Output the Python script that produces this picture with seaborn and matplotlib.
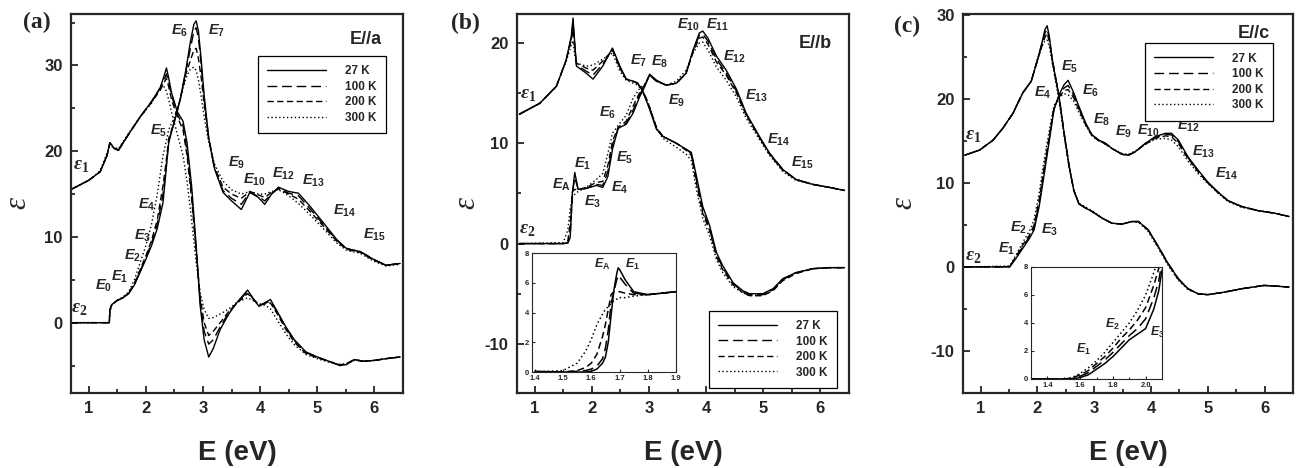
import matplotlib
matplotlib.use('Agg')
import matplotlib.pyplot as plt
from matplotlib.lines import Line2D
from matplotlib.ticker import MultipleLocator
import seaborn as sns
import pandas as pd

temps = ['27 K', '100 K', '200 K', '300 K']

# ---- panel (a), E//a ----
a_E1 = [0.71, 1.0, 1.2, 1.32, 1.37, 1.45, 1.52, 1.7, 1.9, 2.1, 2.25, 2.31, 2.36, 2.40, 2.45, 2.55, 2.65,
        2.72, 2.8, 2.88, 2.95, 3.02, 3.1, 3.18, 3.3, 3.45, 3.6, 3.78, 3.9, 3.98, 4.1, 4.18,
        4.3, 4.45, 4.6, 4.8, 5.0, 5.2, 5.4, 5.5, 5.65, 5.8, 6.0, 6.2, 6.45]
a_eps1_27 = [15.6, 16.6, 17.6, 19.5, 21.0, 20.3, 20.1, 22.0, 24.0, 25.8, 27.4, 28.6, 29.7, 28.5, 26.8, 24.6, 23.5,
             21.0, 16.0, 9.0, 2.0, -2.0, -4.0, -3.0, -0.8, 1.0, 2.4, 3.8, 2.6, 1.9, 2.4, 2.7,
             1.3, -0.5, -2.0, -3.4, -4.0, -4.5, -5.0, -4.9, -4.3, -4.5, -4.4, -4.2, -4.0]
a_eps1_100 = [15.6, 16.6, 17.6, 19.5, 21.0, 20.3, 20.1, 22.0, 24.0, 25.8, 27.3, 28.2, 29.0, 28.0, 26.5, 24.3, 23.0,
              20.0, 15.0, 8.5, 2.5, -1.0, -2.5, -2.0, -0.5, 1.2, 2.4, 3.6, 2.6, 2.0, 2.3, 2.5,
              1.2, -0.6, -2.1, -3.5, -4.0, -4.5, -5.0, -4.9, -4.3, -4.5, -4.4, -4.2, -4.0]
a_eps1_200 = [15.6, 16.6, 17.6, 19.5, 20.9, 20.3, 20.2, 22.0, 24.0, 25.7, 27.1, 27.9, 28.5, 27.5, 26.0, 24.0, 22.5,
              19.5, 14.5, 8.5, 3.0, 0.0, -1.5, -1.0, 0.0, 1.3, 2.3, 3.4, 2.6, 2.1, 2.2, 2.3,
              1.0, -0.8, -2.3, -3.6, -4.1, -4.5, -4.9, -4.8, -4.3, -4.5, -4.4, -4.2, -4.0]
a_eps1_300 = [15.6, 16.6, 17.7, 19.8, 20.6, 20.4, 20.3, 22.1, 24.0, 25.6, 27.5, 27.6, 27.0, 26.0, 24.5, 22.0, 19.5,
              16.5, 12.0, 7.0, 3.5, 1.5, 0.5, 0.6, 1.0, 1.6, 2.4, 2.9, 2.5, 2.2, 2.0, 1.6,
              0.3, -1.3, -2.6, -3.7, -4.2, -4.6, -4.9, -4.8, -4.4, -4.5, -4.4, -4.2, -4.0]

a_E2 = [0.71, 1.36, 1.37, 1.4, 1.5, 1.6, 1.7, 1.8, 1.9, 2.0, 2.1, 2.2, 2.3, 2.35, 2.4,
        2.5, 2.6, 2.7, 2.78, 2.84, 2.88, 2.92, 2.97, 3.02, 3.1, 3.2, 3.35, 3.5, 3.67, 3.82, 3.97, 4.08,
        4.2, 4.32, 4.5, 4.67, 4.87, 5.1, 5.34, 5.5, 5.6, 5.75, 5.98, 6.2, 6.45]
a_eps2_27 = [0, 0, 1.5, 2.1, 2.6, 2.9, 3.4, 4.4, 5.9, 7.4, 9.0, 11.0, 14.0, 17.5, 21.0,
             23.5, 26.0, 29.5, 32.8, 34.8, 35.2, 34.0, 30.5, 26.5, 21.5, 18.0, 15.2, 14.2, 13.2, 15.2, 14.6, 13.8,
             15.0, 15.8, 15.3, 15.1, 13.6, 11.7, 9.7, 8.7, 8.5, 8.3, 7.4, 6.7, 6.9]
a_eps2_100 = [0, 0, 1.5, 2.1, 2.6, 2.9, 3.4, 4.5, 6.0, 7.6, 9.3, 11.5, 15.0, 18.0, 21.2,
              23.5, 26.0, 29.3, 32.0, 34.0, 34.4, 33.2, 30.0, 26.0, 21.5, 18.0, 15.4, 14.5, 13.8, 15.2, 14.7, 14.2,
              15.0, 15.7, 15.1, 14.8, 13.3, 11.5, 9.6, 8.7, 8.5, 8.3, 7.4, 6.7, 6.9]
a_eps2_200 = [0, 0, 1.4, 2.1, 2.6, 2.9, 3.5, 4.6, 6.2, 7.8, 9.6, 12.0, 16.0, 18.5, 21.5,
              23.5, 26.0, 29.0, 30.6, 31.8, 32.0, 30.8, 28.5, 25.5, 21.5, 18.2, 15.8, 15.0, 14.5, 15.3, 14.9, 14.6,
              15.2, 15.6, 15.0, 14.4, 13.0, 11.3, 9.5, 8.6, 8.4, 8.2, 7.3, 6.7, 6.9]
a_eps2_300 = [0, 0, 1.2, 2.0, 2.6, 3.0, 3.6, 5.0, 7.0, 9.0, 11.5, 15.0, 19.5, 21.0, 22.5,
              24.0, 26.0, 28.5, 29.6, 29.8, 29.4, 28.3, 26.3, 24.0, 21.0, 18.5, 16.5, 15.5, 15.0, 15.3, 15.0, 15.0,
              15.3, 15.5, 14.8, 13.9, 12.6, 11.0, 9.3, 8.5, 8.3, 8.1, 7.2, 6.6, 6.8]

# ---- panel (b), E//b ----
b_E1 = [0.73, 1.09, 1.38, 1.55, 1.64, 1.67, 1.7, 1.73, 1.9, 2.02, 2.19, 2.36, 2.49, 2.6, 2.72,
        2.8, 2.88, 2.95, 3.01, 3.13, 3.24, 3.48, 3.65, 3.74, 3.83, 3.94, 4.06, 4.18, 4.29, 4.47,
        4.64, 4.76, 4.99, 5.17, 5.34, 5.57, 5.87, 6.16, 6.42]
b_eps1_27 = [12.9, 14.0, 15.7, 18.3, 20.7, 22.5, 20.0, 17.7, 17.0, 16.4, 17.7, 19.5, 17.7, 16.4, 16.2,
             16.0, 15.3, 14.3, 13.4, 11.4, 10.7, 10.0, 9.4, 9.1, 6.7, 3.7, 1.8, -0.9, -2.2, -3.9,
             -4.7, -5.0, -5.0, -4.5, -3.5, -2.9, -2.5, -2.4, -2.4]
b_eps1_100 = [12.9, 14.0, 15.7, 18.3, 20.5, 22.0, 19.8, 17.8, 17.2, 16.8, 17.9, 19.4, 17.6, 16.4, 16.2,
              16.0, 15.3, 14.4, 13.5, 11.5, 10.7, 10.0, 9.4, 9.0, 6.4, 3.3, 1.5, -1.1, -2.4, -4.0,
              -4.8, -5.1, -5.1, -4.6, -3.6, -2.9, -2.5, -2.4, -2.4]
b_eps1_200 = [12.9, 14.0, 15.7, 18.3, 20.3, 21.3, 19.5, 18.0, 17.5, 17.3, 18.2, 19.3, 17.5, 16.4, 16.2,
              16.0, 15.4, 14.5, 13.6, 11.6, 10.7, 10.0, 9.3, 8.8, 6.0, 3.0, 1.3, -1.3, -2.6, -4.1,
              -4.9, -5.2, -5.2, -4.7, -3.7, -3.0, -2.5, -2.4, -2.4]
b_eps1_300 = [12.9, 14.0, 15.7, 18.2, 19.8, 20.2, 18.8, 18.0, 17.7, 17.8, 18.4, 19.0, 17.2, 16.3, 16.0,
              15.8, 15.3, 14.5, 13.6, 11.6, 10.5, 9.6, 8.9, 8.3, 5.4, 2.5, 0.8, -1.6, -2.9, -4.3,
              -4.9, -5.2, -5.1, -4.6, -3.6, -2.9, -2.5, -2.4, -2.4]

b_E2 = [0.73, 1.5, 1.58, 1.62, 1.66, 1.70, 1.76, 1.9, 2.08, 2.19, 2.28, 2.36, 2.46, 2.6, 2.72,
        2.84, 2.92, 3.01, 3.13, 3.3, 3.48, 3.65, 3.77, 3.88, 3.94, 4.03, 4.18, 4.35, 4.53, 4.7,
        4.93, 5.11, 5.34, 5.57, 5.87, 6.16, 6.42]
b_eps2_27 = [0, 0, 0.05, 0.6, 5.1, 7.1, 5.4, 5.5, 5.8, 5.6, 6.7, 9.4, 11.5, 11.9, 13.0,
             14.7, 15.6, 16.9, 16.3, 15.8, 16.0, 17.0, 19.3, 21.0, 21.2, 20.5, 18.7, 17.3, 15.4, 13.0,
             10.7, 9.0, 7.4, 6.4, 5.9, 5.6, 5.3]
b_eps2_100 = [0, 0, 0.1, 0.9, 5.0, 6.6, 5.4, 5.5, 5.9, 5.8, 7.2, 9.8, 11.5, 12.0, 13.3,
              14.9, 15.7, 16.8, 16.2, 15.8, 16.0, 17.0, 19.2, 20.8, 20.9, 20.2, 18.4, 17.0, 15.2, 12.9,
              10.6, 9.0, 7.4, 6.4, 5.9, 5.6, 5.3]
b_eps2_200 = [0, 0, 0.3, 2.0, 5.2, 5.4, 5.4, 5.6, 6.1, 6.2, 7.8, 10.2, 11.6, 12.2, 13.7,
              15.1, 15.8, 16.8, 16.2, 15.8, 16.0, 17.0, 19.1, 20.5, 20.6, 19.9, 18.1, 16.8, 15.0, 12.8,
              10.6, 8.9, 7.3, 6.4, 5.9, 5.6, 5.3]
b_eps2_300 = [0, 0.1, 1.4, 3.5, 4.6, 4.9, 5.2, 5.6, 6.4, 7.0, 9.0, 11.0, 11.8, 12.8, 14.5,
              15.5, 15.9, 16.8, 16.2, 15.8, 16.2, 17.3, 19.0, 20.0, 20.1, 19.3, 17.6, 16.3, 14.6, 12.5,
              10.4, 8.8, 7.2, 6.3, 5.9, 5.6, 5.3]

# inset (b): band edge
bi_E = [1.40, 1.50, 1.55, 1.58, 1.60, 1.62, 1.64, 1.65, 1.66, 1.67, 1.68, 1.69, 1.695, 1.70,
        1.72, 1.75, 1.80, 1.85, 1.90]
bi_27 = [0.05, 0, 0, 0, 0.05, 0.2, 0.6, 1.0, 2.0, 3.8, 5.5, 6.6, 7.0, 6.9, 6.2, 5.4, 5.2, 5.3, 5.4]
bi_100 = [0, 0, 0.05, 0.1, 0.2, 0.4, 0.9, 1.6, 2.8, 4.6, 5.4, 6.2, 6.5, 6.4, 5.9, 5.3, 5.2, 5.3, 5.4]
bi_200 = [0, 0, 0.1, 0.3, 0.6, 1.2, 2.4, 3.2, 4.2, 5.2, 5.4, 5.4, 5.4, 5.4, 5.3, 5.2, 5.2, 5.3, 5.4]
bi_300 = [0, 0.1, 0.6, 1.4, 2.2, 3.2, 3.9, 4.2, 4.4, 4.6, 4.8, 4.9, 4.9, 5.0, 5.0, 5.1, 5.2, 5.3, 5.4]

# ---- panel (c), E//c ----
c_E1 = [0.72, 0.98, 1.22, 1.39, 1.57, 1.74, 1.89, 2.0, 2.09, 2.13, 2.17, 2.21, 2.26, 2.38, 2.47, 2.56, 2.64,
        2.73, 2.85, 2.96, 3.14, 3.31, 3.49, 3.66, 3.78, 3.95, 4.13, 4.3, 4.48, 4.65, 4.83, 5.0,
        5.29, 5.59, 5.99, 6.23, 6.43]
c_eps1_27 = [13.3, 13.9, 15.1, 16.5, 18.3, 20.7, 22.1, 24.6, 27.0, 28.2, 28.7, 27.4, 24.6, 20.3, 15.9, 11.9, 9.1,
             7.5, 7.0, 6.6, 5.8, 5.2, 5.1, 5.4, 5.4, 4.4, 2.4, 0.4, -1.4, -2.6, -3.2, -3.3,
             -3.0, -2.6, -2.2, -2.3, -2.4]
c_eps1_100 = [13.3, 13.9, 15.1, 16.5, 18.3, 20.7, 22.1, 24.6, 26.8, 27.8, 28.3, 27.1, 24.7, 20.3, 15.9, 11.9, 9.1,
              7.5, 7.0, 6.6, 5.8, 5.2, 5.1, 5.4, 5.4, 4.4, 2.4, 0.4, -1.4, -2.6, -3.2, -3.3,
              -3.0, -2.6, -2.2, -2.3, -2.4]
c_eps1_200 = [13.3, 13.9, 15.1, 16.5, 18.3, 20.7, 22.1, 24.6, 26.5, 27.3, 27.8, 26.8, 24.8, 20.2, 15.8, 11.9, 9.1,
              7.5, 7.0, 6.6, 5.8, 5.2, 5.1, 5.4, 5.4, 4.4, 2.3, 0.3, -1.5, -2.6, -3.2, -3.3,
              -3.0, -2.6, -2.2, -2.3, -2.4]
c_eps1_300 = [13.3, 13.9, 15.1, 16.5, 18.3, 20.7, 22.1, 24.8, 26.4, 26.9, 27.0, 26.2, 24.3, 19.8, 15.5, 11.7, 9.1,
              7.6, 7.1, 6.7, 5.8, 5.2, 5.1, 5.4, 5.3, 4.2, 2.2, 0.2, -1.6, -2.7, -3.2, -3.3,
              -3.0, -2.6, -2.2, -2.3, -2.4]

c_E2 = [0.72, 1.51, 1.62, 1.74, 1.86, 1.94, 2.03, 2.12, 2.21, 2.29, 2.38, 2.47, 2.54, 2.64, 2.73,
        2.85, 2.96, 3.08, 3.2, 3.31, 3.49, 3.6, 3.72, 3.9, 4.07, 4.25, 4.36, 4.48, 4.65, 4.83,
        5.0, 5.18, 5.35, 5.59, 5.88, 6.17, 6.43]
c_eps2_27 = [0, 0, 1.0, 2.2, 3.4, 4.4, 7.2, 11.1, 15.1, 18.7, 20.5, 21.7, 22.2, 20.7, 19.1,
             17.1, 15.7, 15.1, 14.7, 14.1, 13.4, 13.3, 13.7, 14.7, 15.5, 15.9, 15.9, 15.1, 13.1, 11.5,
             10.1, 8.9, 7.9, 7.2, 6.7, 6.4, 6.0]
c_eps2_100 = [0, 0, 1.1, 2.4, 3.6, 4.7, 7.6, 11.5, 15.4, 18.8, 20.3, 21.3, 21.6, 20.4, 18.9,
              17.0, 15.7, 15.1, 14.7, 14.1, 13.4, 13.3, 13.7, 14.7, 15.4, 15.8, 15.7, 14.9, 13.0, 11.4,
              10.0, 8.9, 7.9, 7.2, 6.7, 6.4, 6.0]
c_eps2_200 = [0, 0.05, 1.2, 2.6, 3.8, 5.0, 8.0, 12.0, 15.7, 18.9, 20.2, 21.0, 21.1, 20.1, 18.7,
              16.9, 15.6, 15.0, 14.6, 14.1, 13.4, 13.3, 13.7, 14.6, 15.3, 15.6, 15.5, 14.7, 12.9, 11.3,
              10.0, 8.8, 7.9, 7.2, 6.7, 6.4, 6.0]
c_eps2_300 = [0, 0.1, 1.4, 2.9, 4.3, 5.6, 8.8, 12.8, 16.3, 19.2, 20.2, 20.6, 20.5, 19.7, 18.4,
              16.8, 15.6, 15.0, 14.6, 14.1, 13.5, 13.4, 13.8, 14.6, 15.2, 15.3, 15.1, 14.3, 12.6, 11.1,
              9.9, 8.8, 7.8, 7.1, 6.7, 6.4, 6.0]

# inset (c): absorption onset
ci_E = [1.30, 1.50, 1.55, 1.60, 1.65, 1.70, 1.75, 1.80, 1.85, 1.90, 1.95, 2.00, 2.05, 2.08, 2.10]
ci_27 = [0, 0, 0, 0.1, 0.3, 0.7, 1.1, 1.6, 2.2, 2.8, 3.2, 3.6, 5.0, 6.3, 7.8]
ci_100 = [0, 0, 0.03, 0.2, 0.45, 0.9, 1.35, 1.9, 2.5, 3.1, 3.6, 4.3, 5.8, 7.0, 8.4]
ci_200 = [0, 0, 0.06, 0.3, 0.6, 1.1, 1.6, 2.2, 2.9, 3.5, 4.2, 5.1, 6.7, 7.9, 8.8]
ci_300 = [0, 0, 0.1, 0.4, 0.8, 1.3, 1.9, 2.6, 3.3, 4.0, 4.9, 6.0, 7.6, 8.8, 9.5]

dash_styles = {'27 K': '', '100 K': (7, 3.5), '200 K': (4.5, 2.5), '300 K': (1, 1.8)}

sns.set_style('ticks')
plt.rcParams['font.family'] = ['Liberation Sans', 'DejaVu Sans']
plt.rcParams['font.weight'] = 'bold'
plt.rcParams['axes.unicode_minus'] = False
plt.rcParams['mathtext.fontset'] = 'custom'
plt.rcParams['mathtext.it'] = 'Liberation Sans:italic:bold'
plt.rcParams['mathtext.rm'] = 'Liberation Sans:bold'
plt.rcParams['mathtext.bf'] = 'Liberation Sans:bold'
plt.rcParams['mathtext.cal'] = 'Liberation Serif:italic'
plt.rcParams['mathtext.sf'] = 'Liberation Serif'


def draw_curves(ax, E, cols, lw=1.0):
    frames = [pd.DataFrame({'E': E, 'eps': vals, 'T': t}) for t, vals in zip(temps, cols)]
    df = pd.concat(frames, ignore_index=True)
    sns.lineplot(data=df, x='E', y='eps', style='T', style_order=temps, dashes=dash_styles,
                 color='black', linewidth=lw, estimator=None, sort=False, legend=False, ax=ax)


def setup_axes(ax, ylim, ylab_x):
    ax.set_xlim(0.69, 6.5)
    ax.set_ylim(*ylim)
    ax.xaxis.set_major_locator(MultipleLocator(1))
    ax.xaxis.set_minor_locator(MultipleLocator(0.5))
    ax.yaxis.set_major_locator(MultipleLocator(10))
    ax.yaxis.set_minor_locator(MultipleLocator(5))
    ax.tick_params(which='both', direction='in', top=False, right=False, width=1.3)
    ax.tick_params(which='major', length=5, labelsize=12, pad=6)
    ax.tick_params(which='minor', length=3)
    for s in ax.spines.values():
        s.set_linewidth(1.6)
    ax.set_xlabel('E (eV)', fontsize=20, fontweight='bold')
    ax.xaxis.set_label_coords(0.5, -0.125)
    ax.set_ylabel('ε', family='Liberation Serif', style='italic', weight='normal', fontsize=22)
    ax.yaxis.set_label_coords(ylab_x, 0.5)


def add_legend(ax, loc, anchor):
    handles = [Line2D([], [], color='black', lw=1.0, dashes=dash_styles[t] if dash_styles[t] else (None, None))
               for t in temps]
    leg = ax.legend(handles, temps, loc=loc, bbox_to_anchor=anchor, frameon=True, fancybox=False,
                    edgecolor='black', framealpha=1, prop={'weight': 'bold', 'size': 8.5},
                    handlelength=5.0, handletextpad=1.6, borderpad=0.8, labelspacing=0.3,
                    borderaxespad=0)
    leg.get_frame().set_linewidth(0.9)


def setup_inset(ax, xlim, xmajor, xminor):
    ax.set_xlim(*xlim)
    ax.set_ylim(0, 8)
    ax.xaxis.set_major_locator(MultipleLocator(xmajor))
    if xminor:
        ax.xaxis.set_minor_locator(MultipleLocator(xminor))
    ax.yaxis.set_major_locator(MultipleLocator(2))
    ax.tick_params(which='both', direction='in', labelsize=5.5, length=2.5, width=0.8, pad=2)
    ax.tick_params(which='minor', length=1.5)
    for s in ax.spines.values():
        s.set_linewidth(0.8)
    ax.set_xlabel('')
    ax.set_ylabel('')
    ax.set_facecolor('white')


def tag(ax, x, y, s, size=10.5, **kw):
    ax.text(x, y, s, fontsize=size, ha='center', va='center', **kw)


fig = plt.figure(figsize=(13.03, 4.68), dpi=100)
ax_a = fig.add_axes([0.0545, 0.1603, 0.2548, 0.8098])
ax_b = fig.add_axes([0.3968, 0.1603, 0.2548, 0.8098])
ax_c = fig.add_axes([0.7391, 0.1603, 0.2533, 0.8098])

# (a)
draw_curves(ax_a, a_E1, [a_eps1_27, a_eps1_100, a_eps1_200, a_eps1_300])
draw_curves(ax_a, a_E2, [a_eps2_27, a_eps2_100, a_eps2_200, a_eps2_300])
setup_axes(ax_a, (-8.2, 36.0), -0.115)
add_legend(ax_a, 'upper right', (0.95, 0.89))
ax_a.text(6.13, 33.0, 'E//a', fontsize=13, fontweight='bold', ha='right', va='center')
for s, x, y in [('$E_{0}$', 1.25, 4.3), ('$E_{1}$', 1.54, 5.4), ('$E_{2}$', 1.76, 7.8),
                ('$E_{3}$', 1.95, 10.1), ('$E_{4}$', 2.01, 13.8), ('$E_{5}$', 2.23, 22.4),
                ('$E_{6}$', 2.59, 34.0), ('$E_{7}$', 3.24, 34.0), ('$E_{9}$', 3.59, 18.7),
                ('$E_{10}$', 3.89, 16.7), ('$E_{12}$', 4.40, 17.4), ('$E_{13}$', 4.93, 16.5),
                ('$E_{14}$', 5.48, 13.0), ('$E_{15}$', 6.0, 10.3)]:
    tag(ax_a, x, y, s)
tag(ax_a, 0.86, 18.3, r'$\mathcal{ε}_{\mathsf{1}}$', size=14)
tag(ax_a, 0.84, 1.6, r'$\mathcal{ε}_{\mathsf{2}}$', size=14)

# (b)
draw_curves(ax_b, b_E1, [b_eps1_27, b_eps1_100, b_eps1_200, b_eps1_300])
draw_curves(ax_b, b_E2, [b_eps2_27, b_eps2_100, b_eps2_200, b_eps2_300])
setup_axes(ax_b, (-14.9, 22.9), -0.106)
add_legend(ax_b, 'lower right', (0.964, 0.013))
ax_b.text(6.2, 20.0, 'E//b', fontsize=13, fontweight='bold', ha='right', va='center')
for s, x, y in [(r'$E_\mathrm{A}$', 1.47, 5.9), ('$E_{1}$', 1.83, 8.0), ('$E_{3}$', 2.01, 4.2),
                ('$E_{4}$', 2.49, 5.6), ('$E_{5}$', 2.57, 8.6), ('$E_{6}$', 2.28, 13.0),
                ('$E_{7}$', 2.82, 18.2), ('$E_{8}$', 3.19, 18.1), ('$E_{9}$', 3.48, 14.2),
                ('$E_{10}$', 3.68, 21.8), ('$E_{11}$', 4.19, 21.8), ('$E_{12}$', 4.5, 18.6),
                ('$E_{13}$', 4.88, 14.7), ('$E_{14}$', 5.27, 10.4), ('$E_{15}$', 5.68, 8.1)]:
    tag(ax_b, x, y, s)
tag(ax_b, 0.88, 14.9, r'$\mathcal{ε}_{\mathsf{1}}$', size=14)
tag(ax_b, 0.86, 1.4, r'$\mathcal{ε}_{\mathsf{2}}$', size=14)

ins_b = fig.add_axes([0.4083, 0.2051, 0.1105, 0.2543])
draw_curves(ins_b, bi_E, [bi_27, bi_100, bi_200, bi_300], lw=1.1)
setup_inset(ins_b, (1.39, 1.9), 0.1, None)
tag(ins_b, 1.64, 7.2, r'$E_\mathrm{A}$', size=9)
tag(ins_b, 1.745, 7.2, '$E_{1}$', size=9)

# (c)
draw_curves(ax_c, c_E1, [c_eps1_27, c_eps1_100, c_eps1_200, c_eps1_300])
draw_curves(ax_c, c_E2, [c_eps2_27, c_eps2_100, c_eps2_200, c_eps2_300])
setup_axes(ax_c, (-15.0, 30.1), -0.136)
add_legend(ax_c, 'upper right', (0.94, 0.923))
ax_c.text(6.1, 27.8, 'E//c', fontsize=13, fontweight='bold', ha='right', va='center')
for s, x, y in [('$E_{1}$', 1.45, 2.2), ('$E_{2}$', 1.67, 4.6), ('$E_{3}$', 2.22, 4.4),
                ('$E_{4}$', 2.09, 20.7), ('$E_{5}$', 2.57, 23.8), ('$E_{6}$', 2.93, 21.0),
                ('$E_{8}$', 3.13, 17.5), ('$E_{9}$', 3.52, 16.1), ('$E_{10}$', 3.95, 16.2),
                ('$E_{12}$', 4.65, 16.8), ('$E_{13}$', 4.92, 13.7), ('$E_{14}$', 5.32, 11.1)]:
    tag(ax_c, x, y, s)
tag(ax_c, 0.87, 15.6, r'$\mathcal{ε}_{\mathsf{1}}$', size=14)
tag(ax_c, 0.87, 1.3, r'$\mathcal{ε}_{\mathsf{2}}$', size=14)

ins_c = fig.add_axes([0.7913, 0.1902, 0.1005, 0.2393])
draw_curves(ins_c, ci_E, [ci_27, ci_100, ci_200, ci_300], lw=1.1)
setup_inset(ins_c, (1.3, 2.1), 0.2, 0.1)
tag(ins_c, 1.62, 2.1, '$E_{1}$', size=9)
tag(ins_c, 1.80, 3.9, '$E_{2}$', size=9)
tag(ins_c, 2.07, 3.3, '$E_{3}$', size=9, clip_on=True)

for x, y, s in [(0.028, 0.953, '(a)'), (0.357, 0.95, '(b)'), (0.696, 0.944, '(c)')]:
    fig.text(x, y, s, family='Liberation Serif', fontweight='bold', fontsize=17, ha='center', va='center')

fig.savefig('out.png', dpi=100)
